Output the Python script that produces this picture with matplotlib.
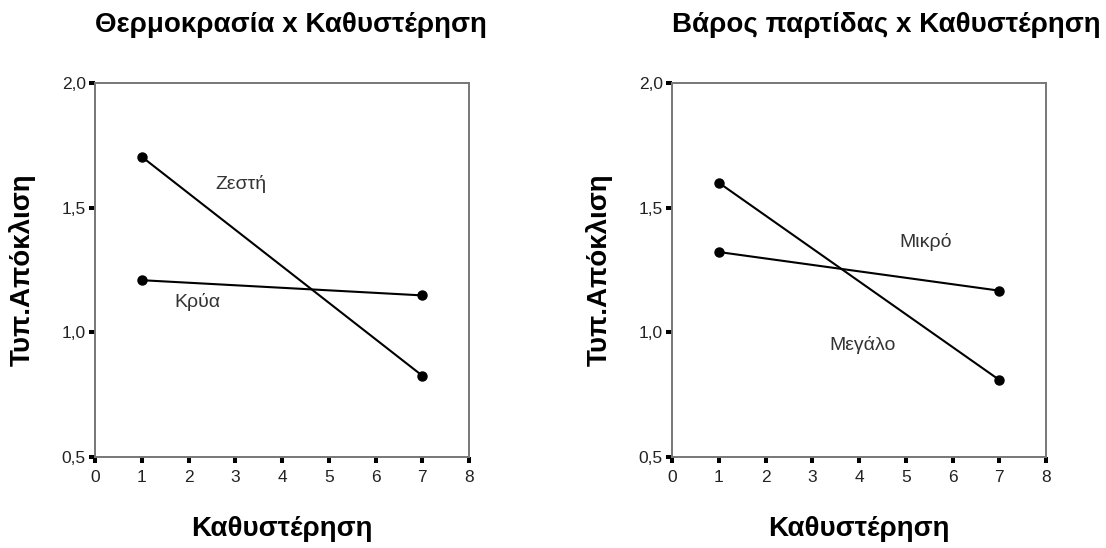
import matplotlib
matplotlib.use('Agg')
import matplotlib.pyplot as plt
from matplotlib.ticker import FuncFormatter

plt.rcParams['font.family'] = ['Liberation Sans', 'DejaVu Sans']

# data
delay = [1, 7]
temp_hot = [1.704, 0.826]
temp_cold = [1.209, 1.148]
batch_small = [1.322, 1.167]
batch_large = [1.600, 0.809]

titles = ['Θερμοκρασία x Καθυστέρηση', 'Βάρος παρτίδας x Καθυστέρηση']
x_label = 'Καθυστέρηση'
y_label = 'Τυπ.Απόκλιση'
x_ticks = [0, 1, 2, 3, 4, 5, 6, 7, 8]
y_ticks = [0.5, 1.0, 1.5, 2.0]

panels = [
    (titles[0], [temp_hot, temp_cold], [('Ζεστή', 3.12, 1.595), ('Κρύα', 2.2, 1.123)]),
    (titles[1], [batch_large, batch_small], [('Μικρό', 5.43, 1.364), ('Μεγάλο', 4.08, 0.951)]),
]

fig = plt.figure(figsize=(11.06, 5.48), dpi=100)
positions = [[0.0859, 0.1661, 0.3382, 0.6825], [0.6076, 0.1661, 0.3382, 0.6825]]

comma = FuncFormatter(lambda v, p: f'{v:.1f}'.replace('.', ','))
intfmt = FuncFormatter(lambda v, p: f'{int(v)}')

for pos, (title, series, notes) in zip(positions, panels):
    ax = fig.add_axes(pos)
    for s in series:
        ax.plot(delay, s, color='black', linewidth=1.5, marker='o', markersize=6.5,
                clip_on=False, zorder=3)
    for text, tx, ty in notes:
        ax.text(tx, ty, text, ha='center', va='center', fontsize=14, color='#333333')
    ax.set_xlim(0, 8)
    ax.set_ylim(0.5, 2.0)
    ax.set_xticks(x_ticks)
    ax.set_yticks(y_ticks)
    ax.xaxis.set_major_formatter(intfmt)
    ax.yaxis.set_major_formatter(comma)
    for sp in ax.spines.values():
        sp.set_color('#777777')
        sp.set_linewidth(1.4)
    ax.tick_params(axis='y', direction='out', length=4.5, width=2.9, labelsize=12.5, pad=2,
                   colors='black', labelcolor='#222222')
    ax.tick_params(axis='x', direction='out', length=4.5, width=2.9, labelsize=12.5, pad=5,
                   colors='black', labelcolor='#222222')
    ax.set_title(title, fontsize=20, fontweight='bold', pad=37, loc='left')
    ax.set_xlabel(x_label, fontsize=20, fontweight='bold', labelpad=22)
    ax.set_ylabel(y_label, fontsize=20, fontweight='bold', labelpad=19)

fig.savefig('out.png', dpi=100)
